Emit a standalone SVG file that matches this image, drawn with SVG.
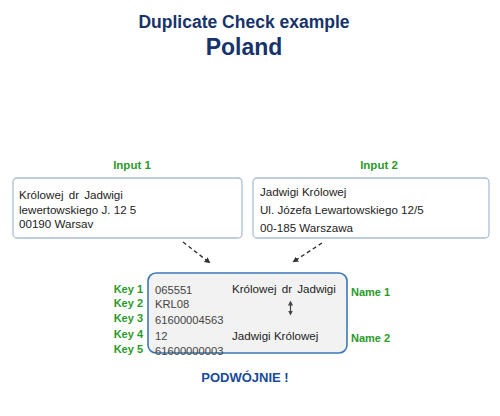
<svg xmlns="http://www.w3.org/2000/svg" width="500" height="416" viewBox="0 0 500 416">
<defs>
<style>
.title{font-family:"Liberation Sans",Arial,sans-serif;font-weight:bold;fill:#17336b;text-anchor:middle}
.lbl{font-family:"Liberation Sans",Arial,sans-serif;font-weight:bold;font-size:11.5px;fill:#2a9a2a}
.kl{font-family:"Liberation Sans",Arial,sans-serif;font-weight:bold;font-size:11px;fill:#2a9a2a}
.txt{font-family:"Liberation Sans",Arial,sans-serif;font-size:11.6px;fill:#222}
.key{font-family:"Liberation Sans",Arial,sans-serif;font-size:11.2px;fill:#444}
.inbox{fill:#fff;stroke:#a9bfd6;stroke-width:1.3}
.conn{stroke:#333;stroke-width:1.4;stroke-dasharray:4 3;fill:none}
</style>
<marker id="ah" viewBox="0 0 10 10" refX="9" refY="5" markerWidth="6" markerHeight="6" orient="auto" markerUnits="userSpaceOnUse">
<path d="M0,0 L10,5 L0,10 z" fill="#333"/>
</marker>
<marker id="sm" viewBox="0 0 10 10" refX="5" refY="5" markerWidth="5" markerHeight="5" orient="auto-start-reverse" markerUnits="userSpaceOnUse">
<path d="M0,0 L10,5 L0,10 z" fill="#444"/>
</marker>
</defs>
<rect width="500" height="416" fill="#fff"/>
<g id="title">
<text class="title" x="244" y="28" font-size="17.5">Duplicate Check example</text>
<text class="title" x="244" y="54.5" font-size="23">Poland</text>
</g>
<g id="input1">
<text class="lbl" x="132" y="169" text-anchor="middle">Input 1</text>
<rect class="inbox" x="13" y="178" width="229" height="60" rx="4"/>
<text class="txt" x="19" y="199" word-spacing="2">Królowej dr Jadwigi</text>
<text class="txt" x="19" y="214">lewertowskiego J. 12 5</text>
<text class="txt" x="19" y="228">00190 Warsav</text>
</g>
<g id="input2">
<text class="lbl" x="379" y="169" text-anchor="middle">Input 2</text>
<rect class="inbox" x="253" y="178" width="236" height="60" rx="4"/>
<text class="txt" x="260" y="196">Jadwigi Królowej</text>
<text class="txt" x="260" y="214">Ul. Józefa Lewartowskiego 12/5</text>
<text class="txt" x="260" y="232">00-185 Warszawa</text>
</g>
<g id="connectors">
<line class="conn" x1="183" y1="242" x2="210" y2="263" marker-end="url(#ah)"/>
<line class="conn" x1="322" y1="243" x2="293" y2="262" marker-end="url(#ah)"/>
</g>
<g id="result">
<rect x="148" y="273" width="199" height="80" rx="8" fill="#f2f2f2" stroke="#3b78b8" stroke-width="1.6"/>
<text class="kl" x="143" y="293" text-anchor="end">Key 1</text>
<text class="kl" x="143" y="307" text-anchor="end">Key 2</text>
<text class="kl" x="143" y="322" text-anchor="end">Key 3</text>
<text class="kl" x="143" y="338" text-anchor="end">Key 4</text>
<text class="kl" x="143" y="353" text-anchor="end">Key 5</text>
<text class="key" x="155" y="294">065551</text>
<text class="key" x="155" y="308">KRL08</text>
<text class="key" x="155" y="324">61600004563</text>
<text class="key" x="155" y="340">12</text>
<text class="key" x="155" y="355">61600000003</text>
<text class="txt" x="232" y="293" word-spacing="2">Królowej dr Jadwigi</text>
<text class="txt" x="232" y="340" font-size="11.5">Jadwigi Królowej</text>
<line x1="290.5" y1="303" x2="290.5" y2="313" stroke="#444" stroke-width="1.2" marker-start="url(#sm)" marker-end="url(#sm)"/>
<text class="kl" x="351" y="296">Name 1</text>
<text class="kl" x="351" y="342">Name 2</text>
</g>
<g id="verdict">
<text x="245" y="382" font-family="Liberation Sans,Arial,sans-serif" font-weight="bold" font-size="13" fill="#1a4a9a" text-anchor="middle">PODWÓJNIE !</text>
</g>
</svg>
